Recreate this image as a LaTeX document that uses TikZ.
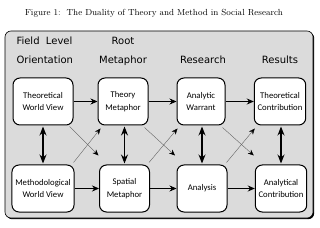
\documentclass[tikz,border=0pt]{standalone}
\usepackage{fontspec}
\newfontfamily\headfont{DejaVu Sans}
\newfontfamily\boxfont{Carlito}
\usetikzlibrary{arrows.meta}
\usetikzlibrary{shadows}

\definecolor{panelgray}{gray}{0.86}

\tikzset{
  stage/.style={draw,line width=1pt,fill=white,rounded corners=7pt,
    minimum width=50pt,minimum height=47pt,align=center,
    font=\boxfont\fontsize{8.7}{12.5}\selectfont},
  header/.style={font=\headfont\fontsize{10}{12}\selectfont},
  flow/.style={-{Stealth[length=7pt,width=6pt]},line width=0.7pt},
  link/.style={{Stealth[length=9pt,width=7pt]}-{Stealth[length=9pt,width=7pt]},
    line width=1.1pt,shorten <=1pt,shorten >=1pt},
  cross/.style={-{Stealth[length=6pt,width=5pt,color=black]},line width=0.35pt,draw=black!65}
}

\begin{document}
\begin{tikzpicture}[x=1pt,y=1pt]
\useasboundingbox (0,0) rectangle (320,227);

% Caption above the panel.
\node[font=\fontsize{8.8}{10}\selectfont] (caption) at (154,214)
  {Figure 1:\ \ The Duality of Theory and Method in Social Research};

% Gray panel with a dark shadow.
\draw[fill=panelgray,rounded corners=6pt,line width=0.6pt,
  drop shadow={shadow xshift=1.2pt,shadow yshift=-1.2pt,fill=black,opacity=1}]
  (5,9) rectangle (313,196);

% Column headers.
\node[header,anchor=base west] (field) at (13,182.5) {Field\ \ Level};
\node[header,anchor=base west] (orient) at (13,163.5) {Orientation};
\node[header,anchor=base] (root) at (123,182.5) {Root};
\node[header,anchor=base] (metaphor) at (123,163.5) {Metaphor};
\node[header,anchor=base] (research) at (203,163.5) {Research};
\node[header,anchor=base] (results) at (280,163.5) {Results};

% Theory row.
\node[stage,minimum width=60pt] (tw) at (43,125.5) {Theoretical\\World View};
\node[stage] (tm) at (123,125.5) {Theory\\Metaphor};
\node[stage,minimum width=48pt] (aw) at (201,125.5) {Analytic\\Warrant};
\node[stage] (tc) at (280,125.5) {Theoretical\\Contribution};

% Method row.
\node[stage,minimum width=60pt] (mw) at (43,38.5) {Methodological\\World View};
\node[stage] (sm) at (124.5,38.5) {Spatial\\Metaphor};
\node[stage] (an) at (202,38.5) {Analysis};
\node[stage] (ac) at (281,38.5) {Analytical\\Contribution};

% Flow along each row.
\draw[flow] (tw) -- (tm);
\draw[flow] (tm) -- (aw);
\draw[flow] (aw) -- (tc);
\draw[flow] (mw) -- (sm);
\draw[flow] (sm) -- (an);
\draw[flow] (an) -- (ac);

% Links between the two rows.
\draw[link] (tw) -- (mw);
\draw[link] (tm.south -| sm.north) -- (sm.north);
\draw[link] (aw.south -| an.north) -- (an.north);
\draw[link] (tc.south -| ac.north) -- (ac.north);

% Crossing influences.
\draw[cross] ([shift={(-4pt,-1pt)}]tw.south east) -- ([shift={(-0.5pt,9pt)}]sm.north west);
\draw[cross] ([shift={(-1pt,2pt)}]mw.north east) -- ([shift={(3pt,-3pt)}]tm.south west);
\draw[cross] ([shift={(-4pt,-2pt)}]tm.south east) -- ([shift={(-1.5pt,9pt)}]an.north west);
\draw[cross] ([shift={(-1pt,2pt)}]sm.north east) -- ([shift={(1pt,-3pt)}]aw.south west);
\draw[cross] ([shift={(-3pt,-2pt)}]aw.south east) -- ([shift={(-1pt,9pt)}]ac.north west);
\draw[cross] ([shift={(-1pt,2pt)}]an.north east) -- ([shift={(1pt,-3pt)}]tc.south west);
\end{tikzpicture}
\end{document}
